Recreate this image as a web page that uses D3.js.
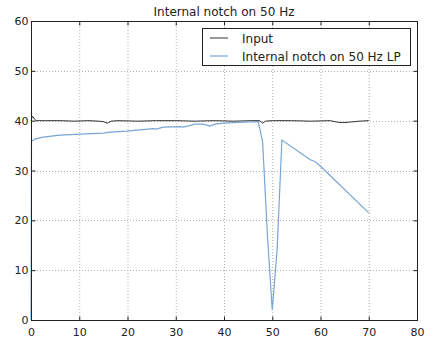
<!DOCTYPE html>
<html>
<head>
<meta charset="utf-8">
<script src="https://cdn.jsdelivr.net/npm/d3@7"></script>
<style>
  body { margin: 0; background: #fff; }
  text { font-family: "DejaVu Sans", sans-serif; fill: #222; }
</style>
</head>
<body>
<div class="container"></div>
<script>
// series
var inputX = [0, 0.3, 1, 3, 6, 9, 12, 14, 15, 15.8, 16.6, 18, 22, 26, 30, 34, 38, 42, 46, 47.4, 48, 48.6, 50, 54, 58, 62, 63.5, 64.7, 66, 68, 70];
var inputY = [40, 40.9, 40, 40, 40, 39.9, 40, 39.9, 39.8, 39.5, 39.9, 40, 39.9, 40, 40, 39.9, 40, 39.9, 40, 40, 39.5, 39.9, 40, 40, 39.9, 40, 39.7, 39.6, 39.7, 39.9, 40];

var lpX = [0, 0.1, 0.8, 2.5, 6, 10.2, 15, 16.4, 19.8, 21.9, 25.4, 26, 27.4, 30.9, 31.6, 34, 35.7, 37.1, 38.1, 40, 44, 47.1, 48, 49, 50, 51, 52, 57.8, 59, 60.6, 70];
var lpY = [0, 35.8, 36.3, 36.7, 37.1, 37.3, 37.5, 37.7, 37.9, 38.1, 38.4, 38.3, 38.7, 38.8, 38.7, 39.3, 39.3, 38.9, 39.3, 39.5, 39.7, 39.8, 35.8, 17, 2, 14, 36.1, 32.2, 31.7, 30.3, 21.5];

var xTicks = [0, 10, 20, 30, 40, 50, 60, 70, 80];
var yTicks = [0, 10, 20, 30, 40, 50, 60];
var seriesNames = ["Input", "Internal notch on 50 Hz LP"];
var seriesColors = ["#333333", "#78a6d6"];
var title = "Internal notch on 50 Hz";

var W = 436, H = 342;
var m = { left: 31, right: 19, top: 21, bottom: 22 };
var pw = W - m.left - m.right, ph = H - m.top - m.bottom;

var svg = d3.select(".container").append("svg")
  .attr("width", W).attr("height", H);

var x = d3.scaleLinear().domain([0, 80]).range([m.left, m.left + pw]);
var y = d3.scaleLinear().domain([0, 60]).range([m.top + ph, m.top]);

// grid
var grid = svg.append("g").attr("stroke", "#b0b0b0").attr("stroke-dasharray", "1,2").attr("stroke-width", 1);
xTicks.slice(1, -1).forEach(function (t) {
  grid.append("line").attr("x1", x(t) + 0.5).attr("x2", x(t) + 0.5).attr("y1", m.top).attr("y2", m.top + ph);
});
yTicks.slice(1, -1).forEach(function (t) {
  grid.append("line").attr("y1", Math.round(y(t)) + 0.5).attr("y2", Math.round(y(t)) + 0.5).attr("x1", m.left).attr("x2", m.left + pw);
});

// lines
var line = d3.line()
  .x(function (d) { return x(d[0]); })
  .y(function (d) { return y(d[1]); });

var inputData = d3.zip(inputX, inputY);
var lpData = d3.zip(lpX, lpY);

svg.append("path").datum(inputData).attr("d", line)
  .attr("fill", "none").attr("stroke", seriesColors[0]).attr("stroke-width", 1);
svg.append("path").datum(lpData).attr("d", line)
  .attr("fill", "none").attr("stroke", seriesColors[1]).attr("stroke-width", 1.2);

// frame
svg.append("rect").attr("x", m.left + 0.5).attr("y", m.top + 0.5)
  .attr("width", pw).attr("height", ph)
  .attr("fill", "none").attr("stroke", "#222").attr("stroke-width", 1);

// axes, ticks inward
var xAxis = svg.append("g").attr("transform", "translate(0," + (m.top + ph + 0.5) + ")")
  .call(d3.axisBottom(x).tickValues(xTicks).tickSizeInner(-4).tickSizeOuter(0).tickPadding(8));
var xAxisTop = svg.append("g").attr("transform", "translate(0," + (m.top + 0.5) + ")")
  .call(d3.axisTop(x).tickValues(xTicks).tickSizeInner(-4).tickSizeOuter(0).tickFormat(""));
var yAxis = svg.append("g").attr("transform", "translate(" + (m.left + 0.5) + ",0)")
  .call(d3.axisLeft(y).tickValues(yTicks).tickSizeInner(-4).tickSizeOuter(0).tickPadding(3));
var yAxisR = svg.append("g").attr("transform", "translate(" + (m.left + pw + 0.5) + ",0)")
  .call(d3.axisRight(y).tickValues(yTicks).tickSizeInner(-4).tickSizeOuter(0).tickFormat(""));

[xAxis, xAxisTop, yAxis, yAxisR].forEach(function (a) {
  a.select(".domain").remove();
  a.selectAll("line").attr("stroke", "#222");
  a.selectAll("text").style("font-size", "11px").style("font-family", "DejaVu Sans").attr("fill", "#222");
});
xAxis.selectAll("text").attr("dy", "0.71em");

// title
svg.append("text").attr("x", m.left + pw / 2).attr("y", 16)
  .attr("text-anchor", "middle").style("font-size", "12px").text(title);

// legend
var lg = svg.append("g");
lg.append("rect").attr("x", 202.5).attr("y", 28.5).attr("width", 208).attr("height", 37)
  .attr("fill", "#fff").attr("stroke", "#222").attr("stroke-width", 1);
seriesNames.forEach(function (name, i) {
  var yy = 38 + i * 18;
  lg.append("line").attr("x1", 210).attr("x2", 228).attr("y1", yy).attr("y2", yy)
    .attr("stroke", seriesColors[i]).attr("stroke-width", i === 0 ? 1 : 1.2);
  lg.append("text").attr("x", 242).attr("y", yy + 5).style("font-size", "12px").text(name);
});
</script>
</body>
</html>
